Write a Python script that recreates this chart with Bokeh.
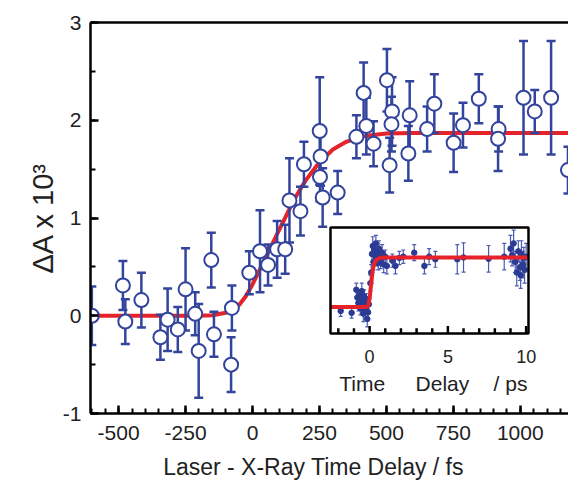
import numpy as np
from bokeh.plotting import figure
from bokeh.models import Range1d, LinearAxis, SingleIntervalTicker, FixedTicker, PrintfTickFormatter
from bokeh.embed import file_html
from bokeh.resources import INLINE
from bokeh.core.properties import value

# ---- main data (delay in fs, dA x 1e3, error) ----
main_t = [-600, -484, -475, -415, -344, -317, -279, -250, -214, -201, -154, -144,
          -80, -77, -12, 28, 58, 92, 122, 138, 179, 192, 251, 254, 252, 262, 318,
          388, 415, 425, 452, 502, 521, 519, 512, 587, 582, 652, 679, 751, 786,
          845, 919, 917, 1012, 1054, 1115, 1178]
main_y = [0.00, 0.31, -0.06, 0.16, -0.22, -0.04, -0.14, 0.27, 0.02, -0.36, 0.57, -0.19,
          -0.50, 0.08, 0.44, 0.66, 0.52, 0.68, 0.68, 1.18, 1.07, 1.55, 1.89, 1.63, 1.42, 1.21, 1.26,
          1.83, 2.28, 1.94, 1.76, 2.41, 2.09, 1.96, 1.54, 2.05, 1.66, 1.91, 2.17, 1.77, 1.95,
          2.22, 1.91, 1.81, 2.23, 2.09, 2.23, 1.49]
main_err = [0.30, 0.25, 0.23, 0.28, 0.23, 0.32, 0.23, 0.42, 0.22, 0.48, 0.28, 0.23,
            0.28, 0.23, 0.22, 0.42, 0.21, 0.29, 0.25, 0.43, 0.25, 0.23, 0.55, 0.30, 0.25, 0.30, 0.22,
            0.22, 0.31, 0.29, 0.23, 0.32, 0.35, 0.28, 0.28, 0.35, 0.28, 0.23, 0.30, 0.30, 0.23,
            0.25, 0.23, 0.33, 0.58, 0.22, 0.58, 0.24]

fit_t = [-605, -200, -150, -100, -75, -50, -25, 0, 25, 50, 75, 100, 125, 150, 175, 200,
         225, 250, 300, 350, 400, 450, 500, 600, 1180]
fit_y = [0, 0, 0.005, 0.03, 0.06, 0.11, 0.20, 0.32, 0.46, 0.60, 0.74, 0.88, 1.02, 1.16,
         1.28, 1.39, 1.48, 1.57, 1.70, 1.78, 1.83, 1.85, 1.865, 1.87, 1.87]

# ---- inset data (delay in ps) ----
inset_t = [-1.85, -1.15, -0.85, -0.78, -0.72, -0.65, -0.6, -0.55, -0.5, -0.45, -0.4, -0.35,
           -0.3, -0.25, -0.2, -0.15, -0.1, -0.05,
           0.05, 0.1, 0.15, 0.2, 0.25, 0.3, 0.35, 0.4, 0.45, 0.5, 0.55, 0.6, 0.65, 0.7, 0.8,
           0.9, 1.0, 1.1, 1.45, 1.65, 1.9, 2.15, 2.85, 3.5, 3.8, 4.2, 5.6, 6.0, 7.6, 8.6,
           9.0, 9.1, 9.2, 9.3, 9.4, 9.5, 9.6, 9.65, 9.7, 9.8, 9.85, 9.9, 10.0]
inset_y = [-0.15, -0.22, 0.65, 0.35, 0.15, 0.45, -0.05, 0.25, 0.6, 0.1, -0.25, 0.4,
           0.2, -0.1, 0.3, -0.45, -0.2, 0.1,
           0.9, 1.3, 2.0, 2.3, 1.7, 2.15, 1.95, 2.4, 1.85, 2.1, 1.65, 2.2, 1.95, 1.75, 2.05,
           1.6, 1.9, 1.55, 1.75, 1.55, 1.85, 1.9, 2.05, 1.55, 1.9, 1.8, 1.8, 1.87, 1.82, 1.9,
           2.2, 1.95, 2.4, 1.7, 1.3, 2.1, 1.5, 1.2, 2.0, 1.6, 1.85, 1.4, 1.9]
inset_err = [0.2, 0.2, 0.25, 0.3, 0.3, 0.2, 0.25, 0.3, 0.3, 0.25, 0.3, 0.25,
             0.3, 0.3, 0.2, 0.3, 0.3, 0.25,
             0.3, 0.3, 0.3, 0.35, 0.3, 0.3, 0.3, 0.3, 0.3, 0.3, 0.25, 0.3, 0.25, 0.3, 0.3,
             0.3, 0.25, 0.3, 0.25, 0.3, 0.25, 0.25, 0.3, 0.3, 0.3, 0.3, 0.55, 0.55, 0.5, 0.5,
             0.5, 0.4, 0.5, 0.4, 0.5, 0.4, 0.5, 0.5, 0.5, 0.5, 0.4, 0.5, 0.5]
inset_fit_t = [-2.5, -0.2, -0.1, 0.0, 0.1, 0.2, 0.3, 0.45, 0.7, 1.0, 10.15]
inset_fit_y = [0, 0, 0.05, 0.3, 0.9, 1.4, 1.65, 1.79, 1.86, 1.87, 1.87]

inset_x_lim = [-2.5, 10.15]
inset_y_lim = [-1.0, 3.0]
inset_major_ticks = [0, 5, 10]
inset_major_labels = ["0", "5", "10"]
inset_minor_ticks = [-2, -1, 1, 2, 3, 4, 6, 7, 8, 9]
inset_title_parts = ["Time", "Delay", "/ ps"]

BLUE = "#33449C"
RED = "#E5232B"
FONT = "Liberation Sans"
TXT = "#222222"

# title padded with no-break spaces so it sits under the visible part of the axis
x_title = "Laser - X-Ray Time Delay / fs" + "\u00a0" * 5

p = figure(width=568, height=487, output_backend="svg", toolbar_location=None,
           x_range=Range1d(-605, 1180), y_range=Range1d(-1, 3),
           min_border_left=90, min_border_right=0, min_border_top=22, min_border_bottom=74,
           x_axis_label=x_title, y_axis_label="ΔA x 10³")
p.outline_line_color = None
p.grid.visible = False
p.background_fill_color = "white"

for ax in (p.xaxis[0], p.yaxis[0]):
    ax.axis_line_width = 2.5
    ax.major_tick_line_width = 2.5
    ax.minor_tick_line_width = 2
    ax.major_tick_in = 8
    ax.major_tick_out = 0
    ax.minor_tick_in = 5
    ax.minor_tick_out = 0
    ax.major_label_text_font = FONT
    ax.major_label_text_font_size = "21px"
    ax.major_label_text_color = TXT
    ax.axis_label_text_font = FONT
    ax.axis_label_text_font_style = "normal"
    ax.axis_label_text_color = TXT
    ax.formatter = PrintfTickFormatter(format="%d")

p.xaxis[0].ticker = SingleIntervalTicker(interval=250, num_minor_ticks=5)
p.yaxis[0].ticker = SingleIntervalTicker(interval=1, num_minor_ticks=2)
p.xaxis[0].major_label_standoff = 12
p.xaxis[0].axis_label_standoff = 11
p.xaxis[0].axis_label_text_font_size = "23px"
p.yaxis[0].major_label_standoff = 9
p.yaxis[0].axis_label_standoff = 1
p.yaxis[0].axis_label_text_font_size = "29px"

top_axis = LinearAxis(ticker=FixedTicker(ticks=[]), axis_line_width=2.5,
                      major_tick_in=0, major_tick_out=0, minor_tick_in=0, minor_tick_out=0,
                      major_label_text_font_size="0px")
p.add_layout(top_axis, "above")

# fit line
p.line(fit_t, fit_y, line_color=RED, line_width=4, line_join="round")

# error bars
mt = np.array(main_t, dtype=float)
my = np.array(main_y, dtype=float)
me = np.array(main_err, dtype=float)
p.segment(x0=mt, y0=my - me, x1=mt, y1=my + me, line_color=BLUE, line_width=2.5)
p.scatter(x=np.concatenate([mt, mt]), y=np.concatenate([my - me, my + me]),
          marker="dash", size=9, line_color=BLUE, line_width=2.5)
p.scatter(x=mt, y=my, marker="circle", size=14, fill_color="white",
          line_color=BLUE, line_width=2)

# ---- inset as a sub-coordinate system ----
inset = p.subplot(x_source=Range1d(inset_x_lim[0], inset_x_lim[1]),
                  y_source=Range1d(inset_y_lim[0], inset_y_lim[1]),
                  x_target=Range1d(291.2, 1030.6),
                  y_target=Range1d(-0.182, 0.903))

inset.quad(left=[inset_x_lim[0]], right=[inset_x_lim[1]],
           bottom=[inset_y_lim[0]], top=[inset_y_lim[1]],
           fill_color="white", line_color=None)

it = np.array(inset_t, dtype=float)
iy = np.array(inset_y, dtype=float)
ie = np.array(inset_err, dtype=float)
inset.segment(x0=it, y0=iy - ie, x1=it, y1=iy + ie, line_color="#4A5BB0", line_width=1.2)
inset.scatter(x=np.concatenate([it, it]), y=np.concatenate([iy - ie, iy + ie]),
              marker="dash", size=4, line_color="#4A5BB0", line_width=1.2)
inset.scatter(x=it, y=iy, marker="circle", size=5.5, fill_color="#2B3A93",
              line_color="#2B3A93")
inset.line(inset_fit_t, inset_fit_y, line_color=RED, line_width=4, line_join="round")

# inset ticks
ymin = inset_y_lim[0]
inset.segment(x0=inset_major_ticks, y0=[ymin] * len(inset_major_ticks),
              x1=inset_major_ticks, y1=[ymin + 0.28] * len(inset_major_ticks),
              line_color="black", line_width=2.5)
inset.segment(x0=inset_minor_ticks, y0=[ymin] * len(inset_minor_ticks),
              x1=inset_minor_ticks, y1=[ymin + 0.2] * len(inset_minor_ticks),
              line_color="black", line_width=2.5)

# inset frame
inset.quad(left=[inset_x_lim[0]], right=[inset_x_lim[1]],
           bottom=[inset_y_lim[0]], top=[inset_y_lim[1]],
           fill_color=None, line_color="black", line_width=2.5)

# inset labels
inset.text(x=inset_major_ticks, y=[ymin - 0.88] * 3, text=inset_major_labels,
           text_font=value(FONT), text_font_size="18px", text_align="center",
           text_baseline="middle", text_color=TXT)
inset.text(x=[-0.47, 4.65, 9.0], y=[ymin - 1.87] * 3, text=inset_title_parts,
           text_font=value(FONT), text_font_size="21px", text_align="center",
           text_baseline="middle", text_color=TXT)

open("out.html", "w").write(file_html(p, INLINE))
